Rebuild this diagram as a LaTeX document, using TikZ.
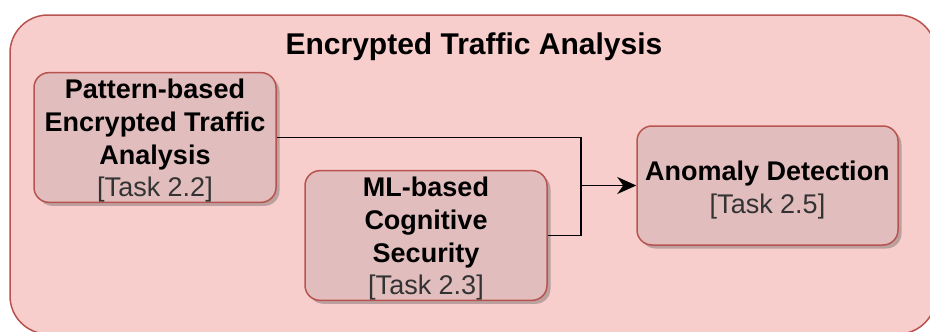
\documentclass[tikz,border=0pt]{standalone}
\usepackage{fontspec}
\setmainfont{Liberation Sans}
\usetikzlibrary{arrows.meta,shadows}

\definecolor{groupfill}{HTML}{F8CECC}
\definecolor{groupline}{HTML}{B85450}
\definecolor{taskfill}{HTML}{E2BDBD}
\definecolor{tasknum}{HTML}{333333}

\tikzset{
  taskbox/.style={draw=groupline, line width=1.5pt, fill=taskfill,
    rounded corners=15pt, align=center, inner sep=0pt,
    font=\fontsize{27}{32.7}\selectfont\bfseries,
    drop shadow={shadow xshift=3.5pt, shadow yshift=-3.5pt,
      opacity=0.35, fill=black!70}},
  link/.style={line width=1.8pt, draw=black}
}
\newcommand{\tasktag}[1]{{\color{tasknum}\mdseries [Task #1]}}
\newcommand{\toplift}[1]{\rule{0pt}{#1}}

\begin{document}
\begin{tikzpicture}[x=1pt, y=-1pt]
  \useasboundingbox (0,0) rectangle (930,332);
  \clip (0,0) rectangle (930,332);
  \fill[white] (0,0) rectangle (930,332);

  % enclosing group
  \draw[draw=groupline, line width=1.5pt, fill=groupfill, rounded corners=38pt]
    (10,15) rectangle (936,334);
  \node[font=\fontsize{30}{34}\selectfont\bfseries] (title) at (474,47)
    {Encrypted Traffic Analysis};

  % task boxes
  \node[taskbox, minimum width=242pt, minimum height=121pt] (a) at (155,137.5)
    {\toplift{26pt}Pattern-based\\Encrypted Traffic\\Analysis\\\tasktag{2.2}};
  \node[taskbox, minimum width=242pt, minimum height=121pt] (b) at (426,235.5)
    {\toplift{26pt}ML-based\\Cognitive\\Security\\\tasktag{2.3}};
  \node[taskbox, minimum width=261pt, minimum height=119pt] (c) at (767.5,185.5)
    {\toplift{29pt}Anomaly Detection\\\tasktag{2.5}};

  % merging connectors
  \coordinate (j) at (581,185.5);
  \draw[link] (a.east) -- (a.east -| j) -- (j);
  \draw[link] (b.east) -- (b.east -| j) -- (j);
  \draw[link, -{Stealth[length=19pt, width=17pt, inset=6pt]}] (j) -- (c.west);
\end{tikzpicture}
\end{document}
